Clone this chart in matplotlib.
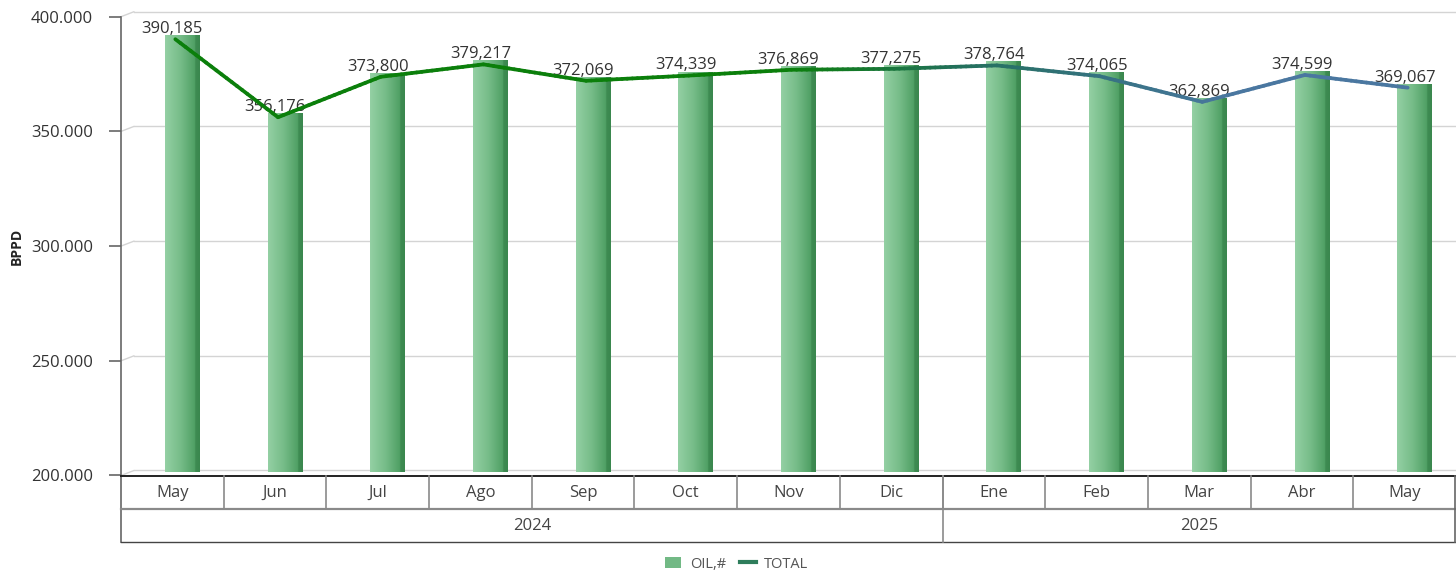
import numpy as np
import matplotlib
matplotlib.use("Agg")
import matplotlib.pyplot as plt
from matplotlib.transforms import ScaledTranslation
from matplotlib.collections import LineCollection
from matplotlib.colors import LinearSegmentedColormap, to_rgb
from matplotlib.patches import Patch
from matplotlib.lines import Line2D

# ---------------- data ----------------
months = ["May", "Jun", "Jul", "Ago", "Sep", "Oct", "Nov", "Dic",
          "Ene", "Feb", "Mar", "Abr", "May"]
years = ["2024", "2025"]
year_counts = [8, 5]
oil = [390185, 356176, 373800, 379217, 372069, 374339, 376869, 377275,
       378764, 374065, 362869, 374599, 369067]
total = [390185, 356176, 373800, 379217, 372069, 374339, 376869, 377275,
         378764, 374065, 362869, 374599, 369067]
yticks = [200000, 250000, 300000, 350000, 400000]

plt.rcParams['font.family'] = ['Open Sans', 'DejaVu Sans']

W, H = 1456, 576
fig = plt.figure(figsize=(W / 100, H / 100), dpi=100)
x0_px, y_bot_px, y_top_px = 121, 475.5, 16.7
ax = fig.add_axes([x0_px / W, 1 - y_bot_px / H, (W - x0_px) / W,
                   (y_bot_px - y_top_px) / H])
n = len(months)
ax.set_xlim(-0.5, n - 0.5)
ax.set_ylim(yticks[0], yticks[-1])
for s in ax.spines.values():
    s.set_visible(False)
ax.set_xticks([])
ax.set_yticks(yticks)
ax.set_yticklabels([f"{v/1000:.3f}" for v in yticks])
ax.tick_params(axis='y', length=8.6, width=1.2, color='#666666', pad=11.5,
               labelsize=12, labelcolor='#333333')
ax.set_ylabel("BPPD", fontsize=10, fontweight='bold', color='#222222')
ax.yaxis.set_label_coords(-97 / (W - x0_px), 0.5)

dpi_tr = fig.dpi_scale_trans
depth = ax.transData + ScaledTranslation(13 / 100, 5 / 100, dpi_tr)

# gridlines (3D style with slanted start)
grid_c = '#d4d4d4'
for v in yticks:
    ax.plot([-0.5, n + 1], [v, v], transform=depth, color=grid_c, lw=1.0,
            clip_on=False, zorder=0.5)
    ax.annotate('', xy=(-0.5, v), xycoords='data',
                xytext=(13 * 0.72, 5 * 0.72), textcoords='offset points',
                arrowprops=dict(arrowstyle='-', color=grid_c, lw=1.0,
                                shrinkA=0, shrinkB=0), zorder=0.5)

# bars with gradient
bar_w = 0.34
bar_tr = ax.transData + ScaledTranslation(10 / 100, 3 / 100, dpi_tr)
cmap = LinearSegmentedColormap.from_list('barg', [
    (0.0, '#94d0a4'), (0.45, '#76bc88'), (0.86, '#4f9f64'),
    (0.87, '#3e8c52'), (1.0, '#3a874e')])
grad = np.linspace(0, 1, 256).reshape(1, -1)
for i, v in enumerate(oil):
    ax.imshow(grad, cmap=cmap, aspect='auto', origin='lower',
              extent=(i - bar_w / 2, i + bar_w / 2, yticks[0], v),
              transform=bar_tr, zorder=2, interpolation='bilinear')
ax.set_xlim(-0.5, n - 0.5)
ax.set_ylim(yticks[0], yticks[-1])

# data labels
for i, v in enumerate(oil):
    ax.annotate(f"{v:,}", (i, v), xytext=(0, 1.5), textcoords='offset points',
                ha='center', va='bottom', fontsize=12, color='#333333',
                zorder=3)

# gradient line
stops_x = [0, 6.0, 7.6, 9.0, 10.3, 12]
stops_c = ['#0b7f0b', '#0b7f0b', '#22705a', '#357280', '#4a77a0', '#4a77a0']
stops_rgb = np.array([to_rgb(c) for c in stops_c])
segs, cols = [], []
xs = np.arange(n)
for i in range(n - 1):
    t = np.linspace(0, 1, 21)
    px = xs[i] + (xs[i + 1] - xs[i]) * t
    py = total[i] + (total[i + 1] - total[i]) * t
    for k in range(20):
        segs.append([(px[k], py[k]), (px[k + 1], py[k + 1])])
        xm = 0.5 * (px[k] + px[k + 1])
        cols.append([np.interp(xm, stops_x, stops_rgb[:, j]) for j in range(3)])
lc = LineCollection(segs, colors=cols, linewidths=2.7, capstyle='round',
                    joinstyle='round', zorder=4,
                    transform=ax.transData + ScaledTranslation(3 / 100, 0, dpi_tr))
ax.add_collection(lc)

# axis line extending through table
def ay(pix):
    return (y_bot_px - pix) / (y_bot_px - y_top_px)

ax.plot([-0.5, -0.5], [ay(16.7), ay(542)], color='#666666', lw=1.2,
        transform=ax.get_xaxis_transform(), clip_on=False, zorder=5)

# category table
xt = ax.get_xaxis_transform()
ax.plot([-0.5, n - 0.5], [ay(476), ay(476)], color='#222222', lw=1.4,
        transform=xt, clip_on=False, zorder=5)
ax.plot([-0.5, n - 0.5], [ay(509), ay(509)], color='#8a8a8a', lw=1.6,
        transform=xt, clip_on=False, zorder=5)
ax.plot([-0.5, n - 0.5], [ay(542), ay(542)], color='#444444', lw=1.0,
        transform=xt, clip_on=False, zorder=5)
for i in range(n - 1):
    ax.plot([i + 0.5, i + 0.5], [ay(476), ay(509)], color='#8a8a8a', lw=1.2,
            transform=xt, clip_on=False, zorder=5)
ax.plot([n - 0.5 - 0.01, n - 0.5 - 0.01], [ay(476), ay(542)], color='#666666',
        lw=1.2, transform=xt, clip_on=False, zorder=5)
start = 0
for yname, cnt in zip(years, year_counts):
    if start > 0:
        ax.plot([start - 0.5, start - 0.5], [ay(476), ay(542)],
                color='#8a8a8a', lw=1.2, transform=xt, clip_on=False, zorder=5)
    ax.text(start - 0.5 + cnt / 2, ay(525.5), yname, transform=xt,
            ha='center', va='center', fontsize=12, color='#444444')
    start += cnt
for i, m in enumerate(months):
    ax.text(i, ay(493), m, transform=xt, ha='center', va='center',
            fontsize=12, color='#444444')

# legend
handles = [Patch(facecolor='#72b985', edgecolor='none'),
           Line2D([], [], color='#2e7d5b', lw=3)]
leg = fig.legend(handles, ['OIL,#', 'TOTAL'], loc='center',
                 bbox_to_anchor=(737 / W, 1 - 564 / H), ncol=2, frameon=False,
                 fontsize=10.5, handlelength=1.1, handleheight=0.7,
                 columnspacing=0.9, handletextpad=0.6)
for t in leg.get_texts():
    t.set_color('#555555')

fig.savefig("out.png", dpi=100)
